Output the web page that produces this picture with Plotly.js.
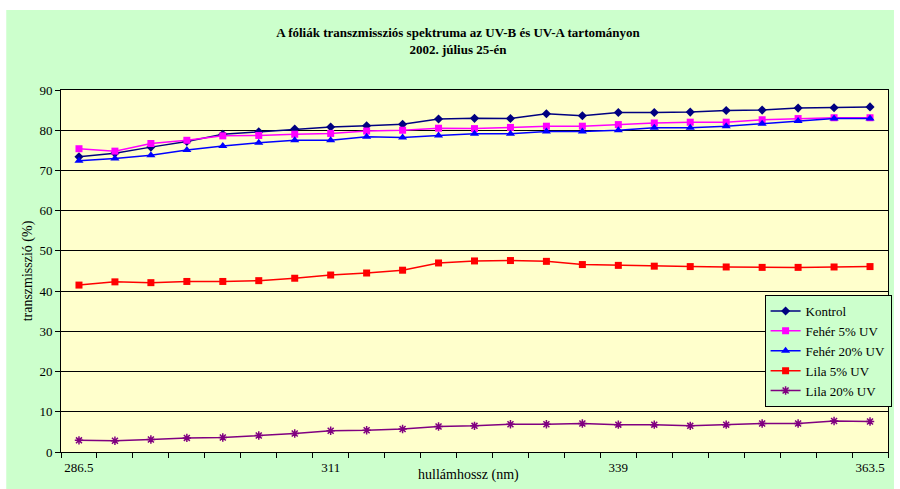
<!DOCTYPE html>
<html>
<head>
<meta charset="utf-8">
<script src="https://cdn.plot.ly/plotly-3.0.1.min.js"></script>
<style>
  html, body { margin: 0; padding: 0; background: #ffffff; }
  #chart { width: 900px; height: 489px; }
</style>
</head>
<body>
<div id="chart"></div>
<script>
// Wavelengths measured (nm)
const wavelengths = [286.5, 290, 293.5, 297, 300.5, 304, 307.5, 311, 314.5, 318, 321.5, 325,
                     328.5, 332, 335.5, 339, 342.5, 346, 349.5, 353, 356.5, 360, 363.5];

// Labelled wavelengths on the horizontal axis
const tickLabels = ['286.5', '311', '339', '363.5'];

// Transmission (%) of each film
const kontrol   = [73.4, 74.3, 75.8, 77.2, 79.0, 79.6, 80.3, 80.8, 81.1, 81.5, 82.8, 82.95,
                   82.9, 84.1, 83.6, 84.4, 84.4, 84.5, 84.9, 85.0, 85.5, 85.6, 85.8];
const feher5    = [75.4, 74.8, 76.7, 77.5, 78.6, 78.7, 79.0, 79.2, 79.8, 80.0, 80.5, 80.4,
                   80.7, 81.0, 81.0, 81.4, 81.8, 82.0, 82.0, 82.6, 82.9, 83.1, 83.1];
const feher20   = [72.4, 73.0, 73.8, 75.1, 76.1, 76.9, 77.5, 77.5, 78.4, 78.2, 78.7, 79.1,
                   79.1, 79.7, 79.7, 80.0, 80.6, 80.6, 81.0, 81.6, 82.3, 82.9, 82.9];
const lila5     = [41.5, 42.3, 42.1, 42.4, 42.4, 42.6, 43.2, 44.0, 44.5, 45.2, 47.0, 47.5,
                   47.6, 47.4, 46.6, 46.4, 46.2, 46.1, 46.0, 45.9, 45.9, 46.0, 46.1];
const lila20    = [2.9, 2.8, 3.1, 3.5, 3.6, 4.1, 4.6, 5.3, 5.4, 5.7, 6.35, 6.5,
                   6.9, 6.9, 7.1, 6.8, 6.8, 6.5, 6.8, 7.1, 7.1, 7.7, 7.6];

const seriesNames = ['Kontrol', 'Fehér 5% UV', 'Fehér 20% UV', 'Lila 5% UV', 'Lila 20% UV'];

// Category layout: each wavelength sits in the middle of an equal-width slot
const step = wavelengths[1] - wavelengths[0];
const xMin = wavelengths[0] - step / 2;
const xMax = wavelengths[wavelengths.length - 1] + step / 2;
const slotEdges = wavelengths.map(w => w - step / 2).concat([xMax]);
const labelVals = tickLabels.map(Number);

const serif = 'Liberation Serif, Times New Roman, serif';

function series(name, y, color, symbol, size, extra) {
  return Object.assign({
    type: 'scatter',
    mode: 'lines+markers',
    name: name,
    x: wavelengths,
    y: y,
    line: { color: color, width: 1.5 },
    marker: { color: color, symbol: symbol, size: size, line: { width: 0 } }
  }, extra || {});
}

const traces = [
  series(seriesNames[0], kontrol, '#000080', 'diamond', 7),
  series(seriesNames[1], feher5, '#FF00FF', 'square', 7),
  series(seriesNames[2], feher20, '#0000FF', 'triangle-up', 8),
  series(seriesNames[3], lila5, '#FF0000', 'square', 7),
  series(seriesNames[4], lila20, '#800080', 'asterisk-open', 7,
         { marker: { color: '#800080', symbol: 'asterisk-open', size: 7,
                     line: { color: '#800080', width: 1.5 } } })
];

// Plot-area geometry in pixels, used to place the chart-area backdrop
const W = 900, H = 489;
const m = { l: 61, r: 8, t: 90, b: 37 };
const pw = W - m.l - m.r, ph = H - m.t - m.b;
const px = v => (v - m.l) / pw;
const py = v => (H - m.b - v) / ph;

const layout = {
  width: W,
  height: H,
  margin: m,
  paper_bgcolor: '#ffffff',
  plot_bgcolor: 'rgba(0,0,0,0)',
  font: { family: serif, size: 13, color: '#000000' },
  title: {
    text: '<b>A fóliák transzmissziós spektruma az UV-B és UV-A tartományon<br>2002. július 25-én</b>',
    font: { family: serif, size: 13, color: '#000000' },
    x: 458 / W, xref: 'container', xanchor: 'center',
    y: 1 - 37 / H, yref: 'container', yanchor: 'middle'
  },
  showlegend: true,
  legend: {
    x: px(768), y: py(295), xanchor: 'left', yanchor: 'top',
    bgcolor: '#CCFFCC', bordercolor: '#000000', borderwidth: 1,
    font: { family: serif, size: 13, color: '#000000' },
    tracegroupgap: 0, itemwidth: 30
  },
  xaxis: {
    range: [xMin, xMax],
    tickmode: 'array',
    tickvals: labelVals,
    ticktext: tickLabels,
    ticks: '',
    ticklabelstandoff: 3,
    showgrid: false,
    zeroline: false,
    showline: true, linecolor: '#000000', linewidth: 1, mirror: true,
    tickfont: { family: serif, size: 13, color: '#000000' },
    minor: { tickmode: 'array', tickvals: slotEdges, ticks: 'outside', ticklen: 5,
             tickcolor: '#000000', tickwidth: 1, showgrid: false },
    fixedrange: true
  },
  yaxis: {
    range: [0, 90],
    tickmode: 'linear', tick0: 0, dtick: 10,
    ticks: 'outside', ticklen: 5, tickcolor: '#000000',
    showgrid: true, gridcolor: '#000000', gridwidth: 1,
    zeroline: false,
    showline: true, linecolor: '#000000', linewidth: 1, mirror: true,
    tickfont: { family: serif, size: 13, color: '#000000' },
    title: { text: 'transzmisszió (%)', font: { family: serif, size: 14, color: '#000000' }, standoff: 3 },
    fixedrange: true
  },
  annotations: [
    // horizontal axis title, set beside the tick labels
    { text: 'hullámhossz (nm)', xref: 'paper', yref: 'paper',
      x: px(470), y: py(475), xanchor: 'center', yanchor: 'middle',
      showarrow: false, font: { family: serif, size: 14, color: '#000000' } }
  ],
  shapes: [
    // chart area backdrop
    { type: 'rect', xref: 'paper', yref: 'paper', layer: 'below',
      x0: px(6), x1: px(898), y0: py(489), y1: py(10),
      fillcolor: '#CCFFCC', line: { width: 0 } },
    // plot area
    { type: 'rect', xref: 'paper', yref: 'paper', layer: 'below',
      x0: 0, x1: 1, y0: 0, y1: 1,
      fillcolor: '#FFFFCC', line: { width: 0 } }
  ]
};

Plotly.newPlot('chart', traces, layout, { displayModeBar: false, staticPlot: true });
</script>
</body>
</html>
